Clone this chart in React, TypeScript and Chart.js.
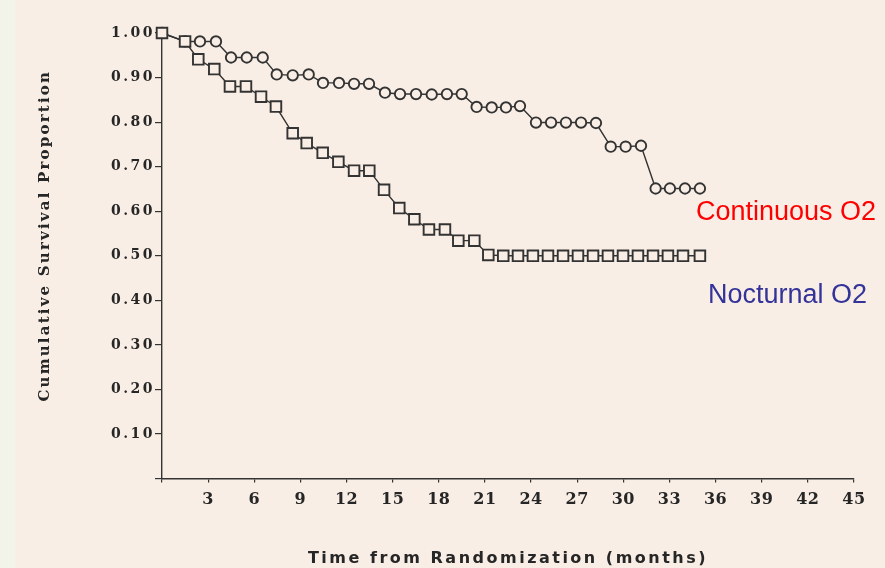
import React, { useEffect, useRef } from "react";
import { Chart, registerables } from "chart.js";

Chart.register(...registerables);

// ---- data ----
const continuousMonths = [0, 1.5, 2.47, 3.51, 4.49, 5.51, 6.55, 7.46, 8.5, 9.54, 10.47, 11.51, 12.49, 13.46, 14.5, 15.48, 16.52, 17.54, 18.53, 19.49, 20.46, 21.44, 22.37, 23.28, 24.32, 25.3, 26.27, 27.25, 28.22, 29.18, 30.15, 31.15, 32.1, 33.03, 34.01, 34.98];
const continuousSurvival = [1.0, 0.981, 0.981, 0.981, 0.945, 0.945, 0.945, 0.907, 0.905, 0.907, 0.888, 0.888, 0.886, 0.886, 0.866, 0.863, 0.863, 0.862, 0.863, 0.863, 0.834, 0.833, 0.833, 0.836, 0.799, 0.799, 0.799, 0.799, 0.798, 0.745, 0.745, 0.747, 0.651, 0.651, 0.651, 0.651];

const nocturnalMonths = [0, 1.5, 2.36, 3.4, 4.42, 5.46, 6.44, 7.41, 8.5, 9.41, 10.45, 11.47, 12.49, 13.48, 14.44, 15.43, 16.41, 17.36, 18.4, 19.27, 20.31, 21.22, 22.19, 23.15, 24.12, 25.1, 26.08, 27.05, 28.03, 29.0, 29.98, 30.95, 31.93, 32.9, 33.88, 34.98];
const nocturnalSurvival = [1.0, 0.981, 0.941, 0.919, 0.88, 0.88, 0.857, 0.835, 0.775, 0.753, 0.731, 0.711, 0.691, 0.691, 0.648, 0.607, 0.582, 0.559, 0.559, 0.534, 0.534, 0.502, 0.5, 0.5, 0.5, 0.5, 0.5, 0.5, 0.5, 0.5, 0.5, 0.5, 0.5, 0.5, 0.5, 0.5];

const xTicks = [0, 3, 6, 9, 12, 15, 18, 21, 24, 27, 30, 33, 36, 39, 42, 45];
const yTicks = [0, 0.1, 0.2, 0.3, 0.4, 0.5, 0.6, 0.7, 0.8, 0.9, 1.0];

const seriesNames = ["Continuous O2", "Nocturnal O2"];
const xTitle = "Time from Randomization (months)";
const yTitle = "Cumulative Survival Proportion";

// ---- styling / placement (not data) ----
const W = 885;
const H = 568;
const PAPER = "#f8eee5";
const STRIP = "#f3f4e9";
const INK = "#333333";
const TEXT_INK = "#262626";
const labelColors = ["#ff0000", "#333399"];
const labelAnchors = [
  { month: 34.72, value: 0.58 },
  { month: 35.5, value: 0.394 },
];
const yTitleAnchor = { x: 45, value: 0.545 };
const X_LABEL_SPACING = 0.5;
const Y_LABEL_SPACING = 2.5;
const X_TITLE_SPACING = 2.5;
const Y_TITLE_SPACING = 2.2;

const paperPlugin = {
  id: "paper",
  beforeDraw(chart: any) {
    const { ctx } = chart;
    ctx.save();
    ctx.fillStyle = PAPER;
    ctx.fillRect(0, 0, chart.width, chart.height);
    ctx.fillStyle = STRIP;
    ctx.fillRect(0, 0, 15, chart.height);
    ctx.restore();
    Object.values(chart.scales).forEach((s: any) => {
      if (s._spacedPatched) return;
      s._spacedPatched = true;
      const ls = s.id === "x" ? X_LABEL_SPACING : Y_LABEL_SPACING;
      const origLabels = s.drawLabels.bind(s);
      s.drawLabels = (area: any) => {
        ctx.save();
        ctx.letterSpacing = ls + "px";
        origLabels(area);
        ctx.restore();
      };
      const origTitle = s.drawTitle.bind(s);
      s.drawTitle = () => {
        ctx.save();
        ctx.letterSpacing = X_TITLE_SPACING + "px";
        origTitle();
        ctx.restore();
      };
    });
    // y axis title
    const ys = chart.scales.y;
    ctx.save();
    ctx.translate(yTitleAnchor.x, ys.getPixelForValue(yTitleAnchor.value));
    ctx.rotate(-Math.PI / 2);
    ctx.letterSpacing = Y_TITLE_SPACING + "px";
    ctx.font = 'bold 15px "DejaVu Serif", serif';
    ctx.fillStyle = TEXT_INK;
    ctx.textAlign = "center";
    ctx.textBaseline = "middle";
    ctx.fillText(yTitle, 0, 0);
    ctx.restore();
  },
  afterDraw(chart: any) {
    const { ctx } = chart;
    const xs = chart.scales.x;
    const ys = chart.scales.y;
    ctx.save();
    ctx.font = '27px "Liberation Sans", Arial, sans-serif';
    ctx.textAlign = "left";
    ctx.textBaseline = "alphabetic";
    seriesNames.forEach((name, i) => {
      ctx.fillStyle = labelColors[i];
      ctx.fillText(name, xs.getPixelForValue(labelAnchors[i].month), ys.getPixelForValue(labelAnchors[i].value));
    });
    ctx.restore();
  },
};

export default function App() {
  const ref = useRef<HTMLCanvasElement | null>(null);
  useEffect(() => {
    if (!ref.current) return;
    const continuous = continuousMonths.map((m, i) => ({ x: m, y: continuousSurvival[i] }));
    const nocturnal = nocturnalMonths.map((m, i) => ({ x: m, y: nocturnalSurvival[i] }));
    const chart = new Chart(ref.current, {
      type: "line",
      data: {
        datasets: [
          {
            label: seriesNames[1],
            data: nocturnal,
            borderColor: INK,
            borderWidth: 1.4,
            backgroundColor: PAPER,
            pointStyle: "rect",
            pointRadius: 7.5,
            pointBorderWidth: 1.9,
            pointBorderColor: INK,
            pointBackgroundColor: PAPER,
            tension: 0,
            fill: false,
            clip: false,
          },
          {
            label: seriesNames[0],
            data: continuous,
            borderColor: INK,
            borderWidth: 1.4,
            backgroundColor: PAPER,
            pointStyle: "circle",
            pointRadius: 5.2,
            pointBorderWidth: 1.9,
            pointBorderColor: INK,
            pointBackgroundColor: PAPER,
            tension: 0,
            fill: false,
            clip: false,
          },
        ],
      },
      options: {
        responsive: false,
        animation: false,
        devicePixelRatio: 1,
        layout: { padding: { top: 33, right: 31, left: 0, bottom: 0 } },
        plugins: { legend: { display: false }, tooltip: { enabled: false } },
        scales: {
          x: {
            type: "linear",
            min: 0,
            max: 45,
            afterFit: (s: any) => {
              s.height = 89.4;
            },
            afterBuildTicks: (s: any) => {
              s.ticks = xTicks.map((v) => ({ value: v }));
            },
            ticks: {
              autoSkip: false,
              maxRotation: 0,
              padding: 8,
              color: TEXT_INK,
              font: { family: '"DejaVu Serif", serif', weight: "bold", size: 16 },
              callback: (v: any) => (v === 0 ? "" : String(v)),
            },
            grid: { drawOnChartArea: false, drawTicks: true, tickLength: 4, color: INK, lineWidth: 1.2 },
            border: { display: true, color: INK, width: 1.4 },
            title: {
              display: true,
              text: xTitle,
              color: TEXT_INK,
              font: { family: '"DejaVu Sans", sans-serif', weight: "bold", size: 16 },
              padding: { top: 0, bottom: 0 },
            },
          },
          y: {
            type: "linear",
            min: 0,
            max: 1,
            afterFit: (s: any) => {
              s.width = 162;
            },
            afterBuildTicks: (s: any) => {
              s.ticks = yTicks.map((v) => ({ value: v }));
            },
            ticks: {
              padding: 0,
              color: TEXT_INK,
              font: { family: '"DejaVu Serif", serif', weight: "bold", size: 14 },
              callback: (v: any) => (v === 0 ? "" : Number(v).toFixed(2)),
            },
            grid: { drawOnChartArea: false, drawTicks: true, tickLength: 7, color: INK, lineWidth: 1.2 },
            border: { display: true, color: INK, width: 1.4 },
            title: { display: false },
          },
        },
      },
      plugins: [paperPlugin],
    } as any);
    return () => chart.destroy();
  }, []);
  return (
    <div style={{ position: "fixed", left: 0, top: 0, width: W, height: H }}>
      <canvas ref={ref} width={W} height={H} style={{ width: W, height: H, display: "block" }} />
    </div>
  );
}
